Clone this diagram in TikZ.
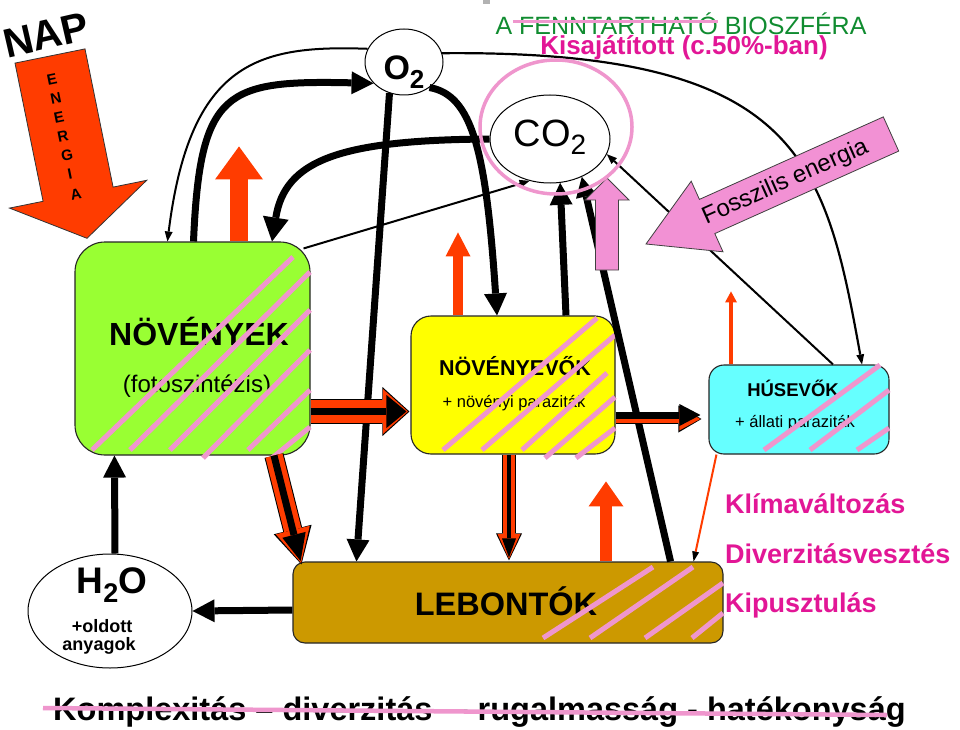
\documentclass[tikz,border=0pt]{standalone}
\usepackage{fontspec}
\setmainfont{Liberation Sans}
\usetikzlibrary{arrows.meta,calc,shapes.geometric}
\definecolor{redc}{RGB}{255,60,0}
\definecolor{pinkL}{RGB}{239,150,205}
\definecolor{pinkF}{RGB}{242,145,212}
\definecolor{magc}{RGB}{226,22,150}
\definecolor{greenT}{RGB}{16,140,48}
\definecolor{novc}{RGB}{153,255,51}
\definecolor{nevc}{RGB}{255,255,0}
\definecolor{husc}{RGB}{102,255,255}
\definecolor{lebc}{RGB}{204,153,0}
\newcommand\fs[1]{\fontsize{#1}{#1}\selectfont}
\begin{document}
\begin{tikzpicture}[x=1pt,y=-1pt,
  box/.style={draw=black!85, line width=1.1pt, rectangle, inner sep=0pt},
  ovalnode/.style={ellipse, draw=black, line width=1pt, fill=white, inner sep=0pt},
  thk/.style={line width=7pt, -{Triangle[length=22pt,width=23pt,line width=0pt]}},
  thn/.style={line width=2pt, -{Triangle[length=10pt,width=8pt,line width=0pt]}},
  hatch/.style={pinkL, line width=5pt},
  txt/.style={inner sep=0pt, anchor=base}]
\useasboundingbox (0,0) rectangle (960,730);
\fill[white] (0,0) rectangle (960,730);
\fill[gray!60] (483,0) rectangle (490,4);

% ---- NAP / energy arrow
\filldraw[fill=redc, draw=black!80, line width=0.8pt] (15,63.1) -- (85,48.9) -- (113.1,187.1) -- (146.7,180.3) -- (87,238.3) -- (9.5,208.1) -- (43.1,201.3) -- cycle;
\node[txt, anchor=center, font=\bfseries\fs{41}, rotate=13] (nap) at (46,35) {NAP};
\foreach [count=\i] \l/\x/\y in {E/52/79, N/56/98, E/59/117, R/63/136, G/67/155, I/70/174, A/76/194}
  \node[inner sep=0pt, font=\bfseries\fs{15}, rotate=11.5] (energia\i) at (\x,\y) {\l};

% ---- boxes
\node[box, fill=novc, rounded corners=30pt, minimum width=235pt, minimum height=213pt] (nov) at (192.5,348.5) {};
\node[box, fill=nevc, rounded corners=20pt, minimum width=204pt, minimum height=138pt] (nevo) at (513,385) {};
\node[box, fill=husc, rounded corners=15pt, minimum width=180pt, minimum height=89pt] (hus) at (799,409.5) {};
\node[box, fill=lebc, rounded corners=12pt, minimum width=430pt, minimum height=81pt] (leb) at (508,602.5) {};
\node[ovalnode, minimum width=78pt, minimum height=66pt] (o2) at (404,62) {};
\node[ovalnode, minimum width=120pt, minimum height=88pt] (co2) at (550,139) {};
\node[ovalnode, minimum width=164pt, minimum height=114pt] (h2o) at (110,611) {};

% ---- box texts
\node[txt, font=\bfseries\fs{32}] (novT) at (199,345) {NÖVÉNYEK};
\node[txt, font=\fs{24}] (novS) at (197,392) {(fotoszintézis)};
\node[txt, font=\bfseries\fs{21.5}] (nevoT) at (515,375) {NÖVÉNYEVŐK};
\node[txt, font=\fs{16.5}] (nevoS) at (514,407) {+ növényi paraziták};
\node[txt, font=\bfseries\fs{18.5}] (husT) at (793,396) {HÚSEVŐK};
\node[txt, font=\fs{16.5}] (husS) at (795,427) {+ állati paraziták};
\node[txt, font=\bfseries\fs{32.5}] (lebT) at (506,615) {LEBONTÓK};
\node[txt, font=\bfseries\fs{34}] (o2T) at (404,80) {O\raisebox{-9pt}{\fs{26}2}};
\node[txt, font=\fs{38}] (co2T) at (550,147) {CO\raisebox{-8pt}{\fs{28}2}};
\node[txt, font=\bfseries\fs{37}] (h2oT) at (112,593) {H\raisebox{-9pt}{\fs{27}2}O};
\node[txt, font=\bfseries\fs{18}] (h2oS1) at (102,632) {+oldott};
\node[txt, font=\bfseries\fs{18}] (h2oS2) at (99,650) {anyagok};

% ---- hatching
\foreach \a/\b in {{92,450}/{293,257}, {130,450}/{310,272}, {170,450}/{310,310}, {203,458}/{310,350}, {248,450}/{310,390}, {272,458}/{310,427},
  {443,450}/{597,318}, {482,450}/{615,335}, {522,450}/{607,373}, {545,458}/{615,397}, {576,458}/{615,428},
  {764,450}/{880,365}, {810,450}/{889,390}, {857,450}/{889,428},
  {543,638}/{653,567}, {590,638}/{693,567}, {645,638}/{723,583}, {692,638}/{723,613}}
  \draw[hatch] (\a) -- (\b);

% ---- black connectors
\draw[thn] (o2.160) .. controls (260,45) and (190,60) .. ($(nov.north west)+(93,0)$);
\draw[thk] ($(nov.north)+(1,0)$) .. controls (200,90) and (225,80) .. (o2.215);
\draw[thk, -{Triangle[length=24pt,width=26pt,line width=0pt]}] (co2.west) .. controls (340,140) and (285,160) .. ($(nov.north)+(79.5,0)$);
\draw[thk] (o2.315) .. controls (472,95) and (486,150) .. ($(nevo.north)+(-16,0)$);
\draw[thk] (o2.245) -- ($(leb.north west)+(64,0)$);
\draw[thn] ($(nov.north east)+(-7,7)$) -- (co2.244);
\draw[thk] ($(nevo.north)+(53,0)$) -- (co2.283);
\draw[thk, -{Triangle[length=20pt,width=21pt,line width=0pt]}] ($(leb.north east)+(-53,0)$) -- (co2.310);
\draw[thn] ($(hus.north)+(34,0)$) -- (co2.345);
\draw[thn, line width=2.2pt] (o2.13) .. controls (800,50) and (825,160) .. ($(hus.north)+(63,0)$);
\draw[thk] ($(h2o.north)+(5,0)$) -- ($(nov.south west)+(40,0)$);
\draw[thk] ($(leb.west)+(0,7.5)$) -- (h2o.east);

% ---- red up arrows
\draw[line width=18pt, redc, -{Triangle[length=33pt,width=48pt,line width=0pt]}] ($(nov.north)+(46.5,0)$) -- ++(0,-95);
\draw[line width=10pt, redc, -{Triangle[length=24pt,width=25pt,line width=0pt]}] ($(nevo.north)+(-55,0)$) -- ++(0,-83);
\draw[line width=3.5pt, redc, -{Triangle[length=11pt,width=12pt,line width=0pt]}] ($(hus.north)+(-68,0)$) -- ++(0,-73);
\draw[line width=12pt, redc, -{Triangle[length=25pt,width=35pt,line width=0pt]}] ($(leb.north)+(98,0)$) -- ++(0,-80);
\draw[redc, line width=2pt, -{Triangle[length=10pt,width=7pt,line width=0pt,color=black,fill=black]}] ($(hus.south west)+(8,0)$) -- ($(leb.north east)+(-30,0)$);

% ---- double arrows
% A: NOV -> NEVO
\draw[black, line width=25pt, -{Triangle[length=27pt,width=49pt,line width=0pt]}] ($(nov.east)+(0,63)$) -- ($(nevo.west)+(-1,26.5)$);
\draw[redc, line width=23pt, shorten >=1.5pt, -{Triangle[length=25pt,width=45pt,line width=0pt]}] ($(nov.east)+(0,63)$) -- ($(nevo.west)+(-1,26.5)$);
\draw[black, line width=7pt, shorten >=3pt, -{Triangle[length=20pt,width=33pt,line width=0pt]}] ($(nov.east)+(0,63)$) -- ($(nevo.west)+(-1,26.5)$);
% B: NEVO -> HUS
\draw[black, line width=10pt, -{Triangle[length=23pt,width=27pt,line width=0pt]}] ($(nevo.east)+(0,34)$) -- ($(hus.west)+(-7,9.5)$);
\draw[redc, line width=8pt, shorten >=1.2pt, -{Triangle[length=21pt,width=23pt,line width=0pt]}] ($(nevo.east)+(0,34)$) -- ($(hus.west)+(-7,9.5)$);
\draw[black, line width=7pt, -{Triangle[length=21pt,width=22pt,line width=0pt]}] ($(nevo.east)+(0,30)$) -- ($(hus.west)+(-8,5.5)$);
% C: NOV -> LEB
\draw[black, line width=19.4pt, -{Triangle[length=36pt,width=39pt,line width=0pt]}] ($(nov.south)+(81.5,0)$) -- ($(leb.north west)+(9,3)$);
\draw[redc, line width=17.4pt, shorten >=1.5pt, -{Triangle[length=34pt,width=35pt,line width=0pt]}] ($(nov.south)+(81.5,0)$) -- ($(leb.north west)+(9,3)$);
\draw[black, line width=7pt, shorten >=3.5pt, -{Triangle[length=27pt,width=24pt,line width=0pt]}] ($(nov.south)+(81.5,0)$) -- ($(leb.north west)+(9,3)$);
% D: NEVO -> LEB
\draw[black, line width=14pt, -{Triangle[length=27pt,width=26pt,line width=0pt]}] ($(nevo.south)+(-4,0)$) -- ($(leb.north)+(1,-1)$);
\draw[redc, line width=12pt, shorten >=1.5pt, -{Triangle[length=25pt,width=23pt,line width=0pt]}] ($(nevo.south)+(-4,0)$) -- ($(leb.north)+(1,-1)$);
\draw[black, line width=4pt, shorten >=3pt, -{Triangle[length=19pt,width=14pt,line width=0pt]}] ($(nevo.south)+(-4,0)$) -- ($(leb.north)+(1,-1)$);

% ---- pink arrows and ring
\filldraw[fill=pinkF, draw=black!75, line width=0.8pt] (595.5,270) -- (595.5,200) -- (585,200) -- (607,178) -- (629,200) -- (618.5,200) -- (618.5,270) -- cycle;
\node[ellipse, draw=pinkL, line width=3.5pt, inner sep=0pt, minimum width=152pt, minimum height=134pt] (ring) at (556,127) {};
\filldraw[fill=pinkF, draw=black!75, line width=0.8pt] (883.3,116.9) -- (699.4,199.4) -- (691.2,181.2) -- (646,244) -- (723,251.8) -- (714.8,233.6) -- (898.7,151.1) -- cycle;
\node[txt, font=\fs{24}, rotate=24] (foss) at (788,188) {Fosszilis energia};

% ---- titles and side texts
\node[txt, font=\fs{25}, text=greenT] (title) at (681,35) {A FENNTARTHATÓ BIOSZFÉRA};
\draw[pinkL, line width=3pt] (513,21.5) -- (718,21.5);
\node[txt, font=\bfseries\fs{26}, text=magc] (kisaj) at (684,55) {Kisajátított (c.50\%-ban)};
\node[txt, anchor=base west, font=\bfseries\fs{27}, text=magc] (klima) at (725,513) {Klímaváltozás};
\node[txt, anchor=base west, font=\bfseries\fs{27}, text=magc] (divv) at (725,563) {Diverzitásvesztés};
\node[txt, anchor=base west, font=\bfseries\fs{27}, text=magc] (kipu) at (725,612) {Kipusztulás};
\node[txt, anchor=base west, font=\bfseries\fs{32.5}] (bottom) at (53,720) {Komplexitás – diverzitás\ \ – rugalmasság - hatékonyság};
\draw[pinkL, line width=4.5pt] (43,708) -- (887,715);
\end{tikzpicture}
\end{document}
